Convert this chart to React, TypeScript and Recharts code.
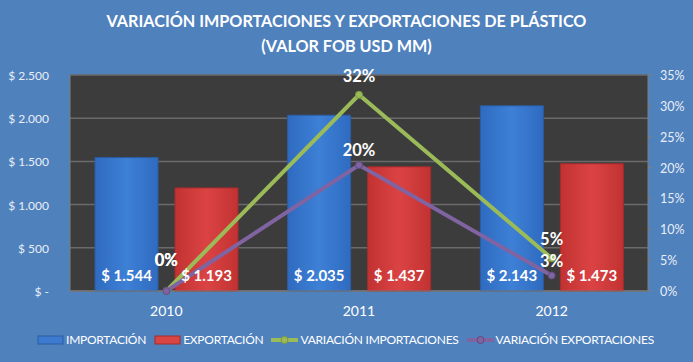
import React from "react";
import {
  ComposedChart,
  Bar,
  Line,
  XAxis,
  YAxis,
  CartesianGrid,
  Legend,
  LabelList,
} from "recharts";

const years = ["2010", "2011", "2012"];
const importacion = [1544, 2035, 2143];
const exportacion = [1193, 1437, 1473];
const varImport = [0, 31.8, 5.3];
const varExport = [0, 20.4, 2.5];
const leftTicks = [0, 500, 1000, 1500, 2000, 2500];
const rightTicks = [0, 5, 10, 15, 20, 25, 30, 35];

const data = years.map((y, i) => ({
  year: y,
  imp: importacion[i],
  exp: exportacion[i],
  vi: varImport[i],
  ve: varExport[i],
}));

const FONT = "Lato, 'Open Sans', sans-serif";
const BG = "#4F81BD";

const fmtMoney = (v: number) =>
  v === 0 ? "$ -" : "$ " + v.toString().replace(/\B(?=(\d{3})+(?!\d))/g, ".");

const LeftTick = (props: any) => {
  const { x, y, payload } = props;
  return (
    <text x={x} y={y} dy={5} textAnchor="end" fill="#E9EEF6" fontSize={12} fontFamily={FONT}>
      {fmtMoney(payload.value)}
    </text>
  );
};

const RightTick = (props: any) => {
  const { x, y, payload } = props;
  return (
    <text x={x} y={y} dy={5} textAnchor="start" fill="#E9EEF6" fontSize={12.5} fontFamily={FONT}>
      {payload.value + "%"}
    </text>
  );
};

const XTick = (props: any) => {
  const { x, y, payload } = props;
  return (
    <text x={x} y={y} dy={17} textAnchor="middle" fill="#FFFFFF" fontSize={14} fontFamily={FONT}>
      {payload.value}
    </text>
  );
};

const BarValueLabel = (props: any) => {
  const { x, y, width, height, value } = props;
  return (
    <text
      x={x + width / 2}
      y={y + height - 15}
      dy={5}
      textAnchor="middle"
      fill="#FFFFFF"
      fontWeight="bold"
      fontSize={15}
      fontFamily={FONT}
    >
      {fmtMoney(value)}
    </text>
  );
};

const makeLineLabel = (lift: number, firstLift: number) => (props: any) => {
  const { x, y, value, index } = props;
  const up = index === 0 ? firstLift : lift;
  return (
    <text
      x={x}
      y={y - up}
      dy={6}
      textAnchor="middle"
      fill="#FFFFFF"
      fontWeight="bold"
      fontSize={16.5}
      fontFamily={FONT}
    >
      {Math.round(value) + "%"}
    </text>
  );
};

const LegendContent = () => {
  const items = [
    { label: "IMPORTACIÓN", type: "bar", color: "#3C7BD0", border: "#2A5DA3" },
    { label: "EXPORTACIÓN", type: "bar", color: "#D94444", border: "#A52C2C" },
    { label: "VARIACIÓN IMPORTACIONES", type: "line", color: "#9BBB59", border: "#7A9A3C" },
    { label: "VARIACIÓN EXPORTACIONES", type: "line", color: "#8064A2", border: "#5F4A7E" },
  ];
  return (
    <div
      style={{
        display: "flex",
        justifyContent: "center",
        alignItems: "center",
        fontFamily: FONT,
        fontSize: 12,
        letterSpacing: -0.25,
        color: "#FFFFFF",
        whiteSpace: "nowrap",
        marginLeft: 6,
      }}
    >
      {items.map((it) => (
        <div key={it.label} style={{ display: "flex", alignItems: "center", marginRight: 8 }}>
          <svg width={27} height={10} style={{ marginRight: 2 }}>
            {it.type === "bar" ? (
              <rect x={1} y={1} width={25} height={8} fill={it.color} stroke={it.border} strokeWidth={1} />
            ) : (
              <g>
                <line x1={0} y1={5} x2={27} y2={5} stroke={it.color} strokeWidth={4} />
                <circle cx={13.5} cy={5} r={3.5} fill={it.color} stroke={it.border} strokeWidth={1} />
              </g>
            )}
          </svg>
          <span>{it.label}</span>
        </div>
      ))}
    </div>
  );
};

export default function App() {
  return (
    <div
      style={{
        position: "absolute",
        left: 0,
        top: 0,
        width: 693,
        height: 362,
        background: BG,
        overflow: "hidden",
      }}
    >
      <div
        style={{
          position: "absolute",
          left: 0,
          top: 8,
          width: 693,
          textAlign: "center",
          color: "#FFFFFF",
          fontFamily: FONT,
          fontWeight: "bold",
          fontSize: 16.2,
          lineHeight: "25px",
        }}
      >
        VARIACIÓN IMPORTACIONES Y EXPORTACIONES DE PLÁSTICO
        <br />
        (VALOR FOB USD MM)
      </div>
      <ComposedChart
        width={693}
        height={362}
        data={data}
        margin={{ top: 75, right: 0, bottom: 11, left: 0 }}
        barGap={17}
        barSize={63}
      >
        <defs>
          <linearGradient id="blueGrad" x1="0" y1="0" x2="1" y2="0">
            <stop offset="0%" stopColor="#2F6BC0" />
            <stop offset="50%" stopColor="#3D80D6" />
            <stop offset="100%" stopColor="#2F6BC0" />
          </linearGradient>
          <linearGradient id="redGrad" x1="0" y1="0" x2="1" y2="0">
            <stop offset="0%" stopColor="#C23232" />
            <stop offset="50%" stopColor="#DB4343" />
            <stop offset="100%" stopColor="#C23232" />
          </linearGradient>
        </defs>
        <CartesianGrid
          vertical={false}
          stroke="#6A6A6A"
          strokeWidth={1.5}
          fill="#3C3C3C"
          yAxisId="left"
        />
        <XAxis
          dataKey="year"
          height={30}
          axisLine={{ stroke: "#7F7F7F" }}
          tickLine={false}
          tick={<XTick />}
        />
        <YAxis
          yAxisId="left"
          orientation="left"
          width={70}
          domain={[0, 2500]}
          ticks={leftTicks}
          axisLine={{ stroke: "#7F7F7F" }}
          tickLine={false}
          tickMargin={15}
          tick={<LeftTick />}
        />
        <YAxis
          yAxisId="right"
          orientation="right"
          width={45}
          domain={[0, 35]}
          ticks={rightTicks}
          axisLine={{ stroke: "#7F7F7F" }}
          tickLine={{ stroke: "#7F7F7F" }}
          tickSize={4}
          tickMargin={8}
          tick={<RightTick />}
        />
        <Legend
          verticalAlign="bottom"
          height={30}
          content={<LegendContent />}
          wrapperStyle={{ top: 332, bottom: "auto" }}
        />
        <Bar
          yAxisId="left"
          dataKey="imp"
          name="IMPORTACIÓN"
          fill="url(#blueGrad)"
          stroke="#2A5DA3"
          strokeWidth={1}
          isAnimationActive={false}
        >
          <LabelList dataKey="imp" content={<BarValueLabel />} />
        </Bar>
        <Bar
          yAxisId="left"
          dataKey="exp"
          name="EXPORTACIÓN"
          fill="url(#redGrad)"
          stroke="#A52C2C"
          strokeWidth={1}
          isAnimationActive={false}
        >
          <LabelList dataKey="exp" content={<BarValueLabel />} />
        </Bar>
        <Line
          yAxisId="right"
          type="linear"
          dataKey="vi"
          name="VARIACIÓN IMPORTACIONES"
          stroke="#9BBB59"
          strokeWidth={4}
          dot={{ r: 3.5, fill: "#9BBB59", stroke: "#7A9A3C", strokeWidth: 1 }}
          isAnimationActive={false}
        >
          <LabelList dataKey="vi" content={makeLineLabel(19, 31)} />
        </Line>
        <Line
          yAxisId="right"
          type="linear"
          dataKey="ve"
          name="VARIACIÓN EXPORTACIONES"
          stroke="#8064A2"
          strokeWidth={4}
          dot={{ r: 3.5, fill: "#8064A2", stroke: "#5F4A7E", strokeWidth: 1 }}
          isAnimationActive={false}
        >
          <LabelList dataKey="ve" content={makeLineLabel(15, 31)} />
        </Line>
      </ComposedChart>
    </div>
  );
}
